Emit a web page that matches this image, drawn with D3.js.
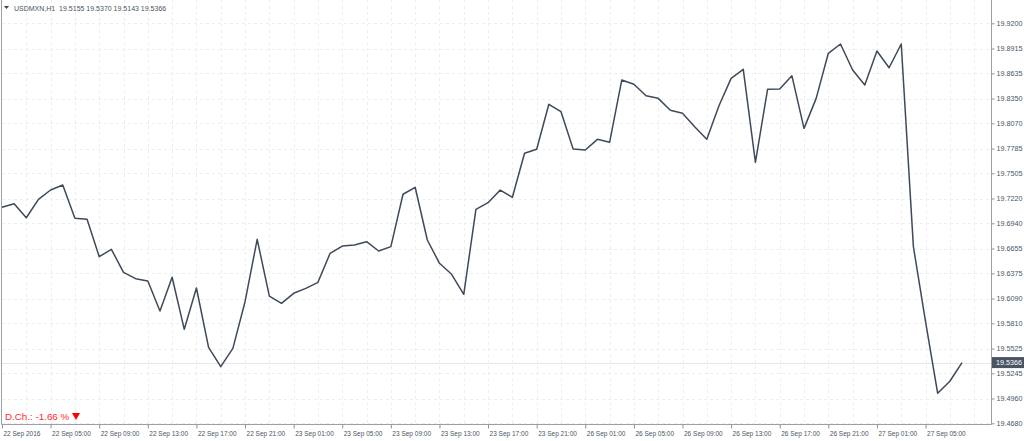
<!DOCTYPE html>
<html>
<head>
<meta charset="utf-8">
<script src="https://cdn.jsdelivr.net/npm/d3@7"></script>
<style>
	body { margin: 0; background: #fff; }
	svg { display: block; font-family: "Liberation Sans", Arial, sans-serif; }
</style>
</head>
<body>
<svg id="chart" width="1024" height="441"></svg>
<script>
// hourly closes, USDMXN H1, 22 Sep - 27 Sep 2016
var closes = [
	19.7121, 19.7161, 19.7003, 19.7211, 19.7316, 19.7373, 19.6996, 19.6985, 19.6563, 19.6646,
	19.6386, 19.6314, 19.6288, 19.5949, 19.6330, 19.5742, 19.6209, 19.5539, 19.5320, 19.5527,
	19.6054, 19.6759, 19.6118, 19.6036, 19.6149, 19.6205, 19.6273, 19.6601, 19.6683, 19.6695,
	19.6732, 19.6627, 19.6676, 19.7268, 19.7347, 19.6751, 19.6488, 19.6364, 19.6138, 19.7098,
	19.7173, 19.7316, 19.7234, 19.7731, 19.7776, 19.8285, 19.8201, 19.7780, 19.7768, 19.7889,
	19.7855, 19.8559, 19.8511, 19.8382, 19.8352, 19.8217, 19.8183, 19.8032, 19.7889, 19.8269,
	19.8578, 19.8680, 19.7629, 19.8454, 19.8457, 19.8608, 19.8013, 19.8352, 19.8861, 19.8966,
	19.8672, 19.8503, 19.8887, 19.8698, 19.8966, 19.6676, 19.5828, 19.5019, 19.5155, 19.5366
];
var yTicks = [19.4680, 19.4960, 19.5245, 19.5525, 19.5810, 19.6090, 19.6375, 19.6655, 19.6940,
	19.7220, 19.7505, 19.7785, 19.8070, 19.8350, 19.8635, 19.8915, 19.9200];
var xLabels = ["22 Sep 2016", "22 Sep 05:00", "22 Sep 09:00", "22 Sep 13:00", "22 Sep 17:00",
	"22 Sep 21:00", "23 Sep 01:00", "23 Sep 05:00", "23 Sep 09:00", "23 Sep 13:00", "23 Sep 17:00",
	"23 Sep 21:00", "26 Sep 01:00", "26 Sep 05:00", "26 Sep 09:00", "26 Sep 13:00", "26 Sep 17:00",
	"26 Sep 21:00", "27 Sep 01:00", "27 Sep 05:00"];
var symbol = "USDMXN,H1";
var ohlc = ["19.5155", "19.5370", "19.5143", "19.5366"];
var dayChange = "-1.66";

var left = 2, right = 991, bottom = 424;
var barsPerLabel = 4;
var fg = "#4a5563";

var svg = d3.select("#chart");
var x = d3.scaleLinear().domain([0, closes.length - 1]).range([2, 962]);
var y = d3.scaleLinear().domain([19.4680, 19.9200]).range([423.3, 23.3]);

// grid
var vgrid = d3.range(2, 82, 2).filter(function (b) { return x(b) < right; });
svg.append("g").selectAll("line").data(vgrid)
	.enter().append("line")
	.attr("x1", function (d) { return Math.round(x(d)) + 0.5; })
	.attr("x2", function (d) { return Math.round(x(d)) + 0.5; })
	.attr("y1", 0).attr("y2", bottom)
	.attr("stroke", "#eeeeee").attr("stroke-dasharray", "3,3");
svg.append("g").selectAll("line").data(yTicks)
	.enter().append("line")
	.attr("x1", left).attr("x2", right)
	.attr("y1", function (d) { return Math.round(y(d)) + 0.5; })
	.attr("y2", function (d) { return Math.round(y(d)) + 0.5; })
	.attr("stroke", "#eeeeee").attr("stroke-dasharray", "3,3");

// current price line
var last = closes[closes.length - 1];
svg.append("line")
	.attr("x1", left).attr("x2", right)
	.attr("y1", Math.round(y(last)) + 0.5).attr("y2", Math.round(y(last)) + 0.5)
	.attr("stroke", "#e8e8e8");

// frame
svg.append("path")
	.attr("d", "M" + (left - 0.5) + ",0V" + (bottom + 0.5) + "H" + (right + 0.5) + "V0")
	.attr("fill", "none").attr("stroke", "#9aa0a8");

// price line
svg.append("path")
	.datum(closes)
	.attr("fill", "none")
	.attr("stroke", "#3e4a5a")
	.attr("stroke-width", 1.5)
	.attr("stroke-linejoin", "round")
	.attr("d", d3.line().x(function (d, i) { return x(i); }).y(function (d) { return y(d); }));

// y axis
var yAxis = d3.axisRight(y).tickValues(yTicks).tickSize(3).tickPadding(2)
	.tickFormat(function (d) { return d.toFixed(4); });
var gy = svg.append("g").attr("transform", "translate(" + (right + 0.5) + ",0)").call(yAxis);
gy.select(".domain").remove();
gy.selectAll("line").attr("stroke", "#8a929c");
gy.selectAll("text").attr("fill", fg).attr("font-size", "7.2px").attr("font-family", null);

// current price tag
var tag = svg.append("g").attr("transform", "translate(992," + y(last) + ")");
tag.append("rect").attr("x", 0).attr("y", -5.5).attr("width", 32).attr("height", 11).attr("fill", "#4a5462");
tag.append("text").attr("x", 4).attr("y", 2.6).attr("fill", "#fff").attr("font-size", "7.2px")
	.text(last.toFixed(4));

// x axis
var xAxis = d3.axisBottom(x)
	.tickValues(xLabels.map(function (d, i) { return i * barsPerLabel; }))
	.tickSize(4).tickPadding(3)
	.tickFormat(function (d) { return xLabels[d / barsPerLabel]; });
var gx = svg.append("g").attr("transform", "translate(0," + (bottom + 0.5) + ")").call(xAxis);
gx.select(".domain").remove();
gx.selectAll("line").attr("stroke", "#8a929c");
gx.selectAll("text").attr("fill", fg).attr("font-size", "6.5px").attr("font-family", null)
	.attr("text-anchor", "start").attr("dx", "1");

// header
svg.append("path").attr("d", "M4,6H9L6.5,9Z").attr("fill", "#3b4554");
svg.append("text").attr("x", 14).attr("y", 10.5).attr("fill", fg).attr("font-size", "7px")
	.attr("xml:space", "preserve")
	.text(symbol + "  " + ohlc.join(" "));

// daily change
svg.append("text").attr("x", 5).attr("y", 420).attr("fill", "#ff2a2a").attr("font-size", "9.8px")
	.text("D.Ch.: " + dayChange + " %");
svg.append("path").attr("d", "M72,413H80L76,420Z").attr("fill", "#ff0000");
</script>
</body>
</html>
